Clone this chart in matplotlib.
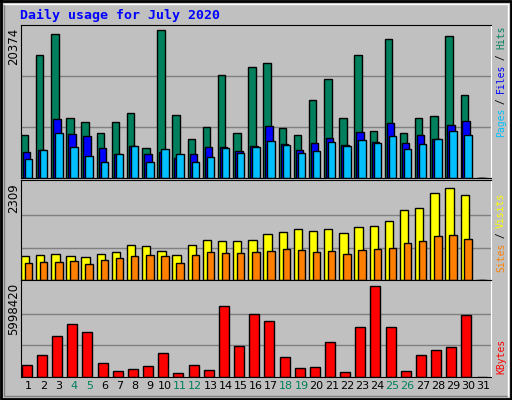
import numpy as np
import matplotlib
matplotlib.use("Agg")
import matplotlib.pyplot as plt

days = np.arange(1, 32)
hits = [5855, 16919, 19823, 8206, 7653, 6131, 7653, 8897, 4057, 20374, 8621, 5302, 6961, 14153, 6131,
        15259, 15812, 6823, 5855, 10695, 13600, 8206, 16919, 6408, 19132, 6131, 8206, 8482, 19546, 11387, 0]
files = [3504, 3780, 8068, 5993, 5716, 4057, 3227, 4333, 3227, 3504, 2812, 3227, 4195, 4195, 3642,
         4333, 7099, 4610, 3780, 4748, 5440, 4472, 6270, 4887, 7514, 4748, 5855, 5302, 7238, 7791, 0]
pages = [2674, 3780, 6131, 4195, 3089, 2259, 3227, 4333, 2259, 3919, 3227, 2259, 2950, 4057, 3365,
         4195, 5025, 4472, 3365, 3642, 4887, 4333, 5163, 4748, 5716, 3919, 4610, 5302, 6408, 5855, 0]
visits = [608, 634, 659, 608, 584, 659, 709, 884, 859, 734, 634, 884, 1009, 984, 984,
          1009, 1159, 1209, 1284, 1234, 1284, 1184, 1334, 1359, 1484, 1759, 1809, 2184, 2309, 2134, 0]
sites = [433, 458, 458, 483, 408, 508, 559, 608, 634, 608, 433, 634, 709, 684, 684,
         709, 734, 784, 759, 709, 734, 659, 759, 784, 809, 934, 984, 1109, 1134, 1034, 0]
kbytes = [810000, 1467000, 2715000, 3503000, 2977000, 941000, 416000, 547000, 744000, 1598000, 285000,
          810000, 482000, 4685000, 2058000, 4159000, 3700000, 1335000, 613000, 679000, 2321000, 350000,
          3306000, 5998420, 3306000, 416000, 1467000, 1795000, 1992000, 4094000, 0]
weekend = {4, 5, 11, 12, 18, 19, 25, 26}

W, H = 512, 400
fig = plt.figure(figsize=(W / 100, H / 100), dpi=100, facecolor="#C0C0C0")
mono = "DejaVu Sans Mono"


def panel(top, bottom):
    ax = fig.add_axes([21 / W, 1 - bottom / H, 470 / W, (bottom - top) / H])
    ax.set_facecolor("#C0C0C0")
    ax.set_xlim(0.5, 31.5)
    ax.set_xticks([])
    ax.set_yticks([])
    for s in ax.spines.values():
        s.set_color("black")
        s.set_linewidth(0.8)
    ax.spines["right"].set_color("white")
    return ax


ec = dict(edgecolor="black", linewidth=1, align="edge")

ax1 = panel(25, 178)
ax1.set_ylim(0, 20374 / 147.4 * 152)
for f in (1 / 3, 2 / 3):
    ax1.axhline(20374 * f * 1.03, color="#808080", lw=1, zorder=0)
ax1.bar(days - 0.51, hits, width=0.49, color="#00805C", **ec)
ax1.bar(days - 0.38, files, width=0.49, color="#0000FF", **ec)
ax1.bar(days - 0.25, pages, width=0.49, color="#00C0FF", **ec)

ax2 = panel(180, 280)
ax2.set_ylim(0, 2309 / 92.3 * 100)
for f in (1 / 3, 2 / 3):
    ax2.axhline(2309 * f * 1.05, color="#808080", lw=1, zorder=0)
ax2.bar(days - 0.51, visits, width=0.55, color="#FFFF00", **ec)
ax2.bar(days - 0.25, sites, width=0.49, color="#FF8000", **ec)

ax3 = panel(280, 377)
ax3.set_ylim(0, 5998420 / 91.3 * 97)
for f in (1 / 3, 2 / 3):
    ax3.axhline(5998420 * f * 1.04, color="#808080", lw=1, zorder=0)
ax3.bar(days - 0.45, kbytes, width=0.66, color="#FF0000", **ec)

for d in days:
    ax3.text(d, -0.04, str(d), transform=ax3.get_xaxis_transform(), ha="center", va="top",
             fontsize=8, color="#00805C" if d in weekend else "black")

fig.text(20 / W, 1 - 15 / H, "Daily usage for July 2020", color="#0000FF", fontsize=9.5,
         fontweight="bold", family=mono, va="center")
for y, lab in [(28, "20374"), (183, "2309"), (283, "5998420")]:
    fig.text(14 / W, 1 - y / H, lab, rotation=90, fontsize=8.5, ha="center", va="top")


def side(y, parts):
    # stacked rotated labels, written from bottom to top
    for txt, col in parts:
        fig.text(501 / W, 1 - y / H, txt, rotation=90, color=col, fontsize=7,
                 family=mono, ha="center", va="bottom")
        y -= len(txt) * 5.5


side(137, [("Pages", "#00C0FF"), (" / ", "black"), ("Files", "#0000FF"),
           (" / ", "black"), ("Hits", "#00805C")])
side(272, [("Sites", "#FF8000"), (" / ", "black"), ("Visits", "#FFFF00")])
side(374, [("KBytes", "#FF0000")])

# outer frame
fr = fig.add_axes([0, 0, 1, 1])
fr.set_xlim(0, W)
fr.set_ylim(H, 0)
fr.axis("off")
fr.patch.set_visible(False)
fr.plot([1, W - 1, W - 1, 1, 1], [1, 1, H - 1, H - 1, 1], color="black", lw=2)
fr.plot([4, 4, W - 4], [4, H - 4, H - 4], color="#808080", lw=1)
fr.plot([4, W - 4, W - 4], [4, 4, H - 4], color="white", lw=1)

fig.savefig("out.png", dpi=100, facecolor=fig.get_facecolor())
